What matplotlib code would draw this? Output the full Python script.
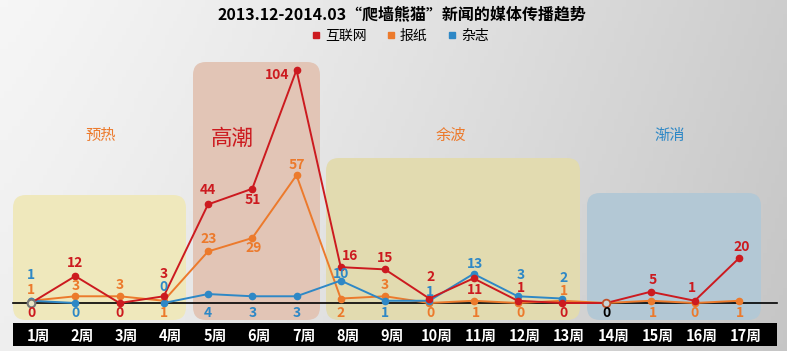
import numpy as np
import matplotlib
matplotlib.use('Agg')
import matplotlib.pyplot as plt
from matplotlib.patches import FancyBboxPatch, Rectangle
from matplotlib.lines import Line2D

plt.rcParams['font.family'] = ['Noto Sans CJK SC', 'DejaVu Sans']

# Data
weeks = np.arange(1, 18)
week_labels = ['%d周' % w for w in weeks]
internet = [0, 12, 0, 3, 44, 51, 104, 16, 15, 2, 11, 1, 0, 0, 5, 1, 20]
paper = [1, 3, 3, 1, 23, 29, 57, 2, 3, 0, 1, 0, 1, 0, 1, 0, 1]
magazine = [1, 0, np.nan, 0, 4, 3, 3, 10, 1, 1, 13, 3, 2,
            np.nan, np.nan, np.nan, np.nan]
series_names = ['互联网', '报纸', '杂志']
phases = ['预热', '高潮', '余波', '渐消']

RED = '#cc1a1f'
ORANGE = '#ec7a2c'
BLUE = '#2e88c6'

W, H = 787, 351
fig = plt.figure(figsize=(W / 100, H / 100), dpi=100)

# background layer in pixel units
bg = fig.add_axes([0, 0, 1, 1])
bg.set_xlim(0, W)
bg.set_ylim(H, 0)
bg.axis('off')
gx = np.linspace(0, 1, 200)
gy = np.linspace(0, 1, 50)
GX, GY = np.meshgrid(gx, gy)
shade = 0.965 - 0.16 * GX ** 1.2 - 0.03 * GY
img = np.dstack([shade, shade, shade])
bg.imshow(img, extent=[0, W, H, 0], aspect='auto', zorder=0)

boxes = [  # x0, x1, y0, y1, colour
    (13, 186, 195, 320, '#efe8bc'),
    (193, 320, 62, 320, '#e2c5b6'),
    (326, 580, 158, 320, '#e2dbb0'),
    (587, 761, 193, 320, '#b3c8d5'),
]
for x0, x1, y0, y1, c in boxes:
    bg.add_patch(FancyBboxPatch((x0, y0), x1 - x0, y1 - y0,
                                boxstyle='round,pad=0,rounding_size=13',
                                fc=c, ec='none', zorder=1))

bg.add_patch(Rectangle((13, 323), 764, 23, fc='black', ec='none', zorder=2))

phase_style = [(101, 135, ORANGE, 11), (232, 139, RED, 15.5),
               (451, 135, ORANGE, 11), (670, 135, BLUE, 11)]
for name, (x, y, c, fs) in zip(phases, phase_style):
    bg.text(x, y, name, color=c, fontsize=fs, ha='center', va='center', zorder=3)

bg.text(402, 14, '2013.12-2014.03“爬墙熊猫”新闻的媒体传播趋势',
        fontsize=11.5, fontweight='bold', ha='center', va='center', zorder=3)

# main data axes, scaled so week 1 -> 31px, week 17 -> 739px, 0 -> 303px
ax = fig.add_axes([0, 0, 1, 1])
ax.patch.set_alpha(0)
ax.axis('off')
pxw = (739 - 31) / 16
pxv = (303 - 70) / 104
x0 = 1 - 31 / pxw
ax.set_xlim(x0, x0 + W / pxw)
y0 = -(H - 303) / pxv
ax.set_ylim(y0, y0 + H / pxv)

ax.axhline(0, xmin=13 / W, xmax=777 / W, color='black', lw=1.2, zorder=2)

ax.plot(weeks, internet, color=RED, lw=1.4, marker='o', ms=4.5, zorder=4)
ax.plot(weeks, paper, color=ORANGE, lw=1.4, marker='o', ms=4.5, zorder=3)
ax.plot(weeks, magazine, color=BLUE, lw=1.4, marker='o', ms=4.5, zorder=3)
ax.plot([1], [internet[0]], ls='none', marker='o', ms=5.5, mfc='#e8e4c4',
        mec='#777777', mew=1.5, zorder=5)
ax.plot([14], [internet[13]], ls='none', marker='o', ms=5.5, mfc='#c9d3d6',
        mec='#c0502a', mew=1.3, zorder=5)

# labels: (week, series, dx, dy) offsets in pixels
series = {'r': (internet, RED), 'o': (paper, ORANGE), 'b': (magazine, BLUE)}
labels = [
    (1, 'b', 0, 26), (1, 'o', 0, 11), (1, 'r', 0, -10),
    (2, 'r', 0, 13), (2, 'o', 0, 10), (2, 'b', 0, -10),
    (3, 'o', 0, 11), (3, 'r', 0, -10),
    (4, 'r', 0, 22), (4, 'b', 0, 16), (4, 'o', 0, -12),
    (5, 'r', 0, 14), (5, 'o', 1, 12), (5, 'b', 0, -19),
    (6, 'r', 1, -11), (6, 'o', 1, -10), (6, 'b', 0, -17),
    (7, 'r', -19, -5), (7, 'o', 0, 10), (7, 'b', 0, -17),
    (8, 'r', 9, 11), (8, 'b', 0, 7), (8, 'o', 0, -14.5),
    (9, 'r', 0, 11), (9, 'o', 0, 11), (9, 'b', 0, -12),
    (10, 'r', 1, 22), (10, 'b', 1, 9), (10, 'o', 1, -10),
    (11, 'b', 2, 10), (11, 'r', 2, -11.5), (11, 'o', 2, -12),
    (12, 'b', 3, 21), (12, 'r', 3, 13), (12, 'o', 3, -10),
    (13, 'b', 2, 21), (13, 'o', 2, 10), (13, 'r', 2, -10),
    (15, 'r', 2, 12), (15, 'o', 2, -12),
    (16, 'r', -3, 13), (16, 'o', 0, -10),
    (17, 'r', 3, 11), (17, 'o', 1, -12),
]
for w, s, dx, dy in labels:
    vals, c = series[s]
    v = vals[w - 1]
    ax.annotate('%d' % v, (w, v), xytext=(dx, dy), textcoords='offset pixels',
                color=c, fontsize=10, fontweight='bold', ha='center',
                va='center', zorder=6)
ax.annotate('%d' % internet[13], (14, 0), xytext=(0, -10),
            textcoords='offset pixels', color='black', fontsize=10,
            fontweight='bold', ha='center', va='center', zorder=6)

for w, lab in zip(weeks, week_labels):
    ax.annotate(lab, (w, 0), xytext=(7, -33), textcoords='offset pixels',
                color='white', fontsize=10.5, fontweight='bold', ha='center',
                va='center', zorder=6)

handles = [Line2D([], [], ls='none', marker='s', ms=5, color=c)
           for c in [RED, ORANGE, BLUE]]
ax.legend(handles, series_names, loc='center',
          bbox_to_anchor=(400 / W, 1 - 36 / H), ncol=3, frameon=False,
          fontsize=10, handlelength=0.7, handletextpad=0.3, columnspacing=1.4,
          borderpad=0)

fig.savefig('out.png', dpi=100)
